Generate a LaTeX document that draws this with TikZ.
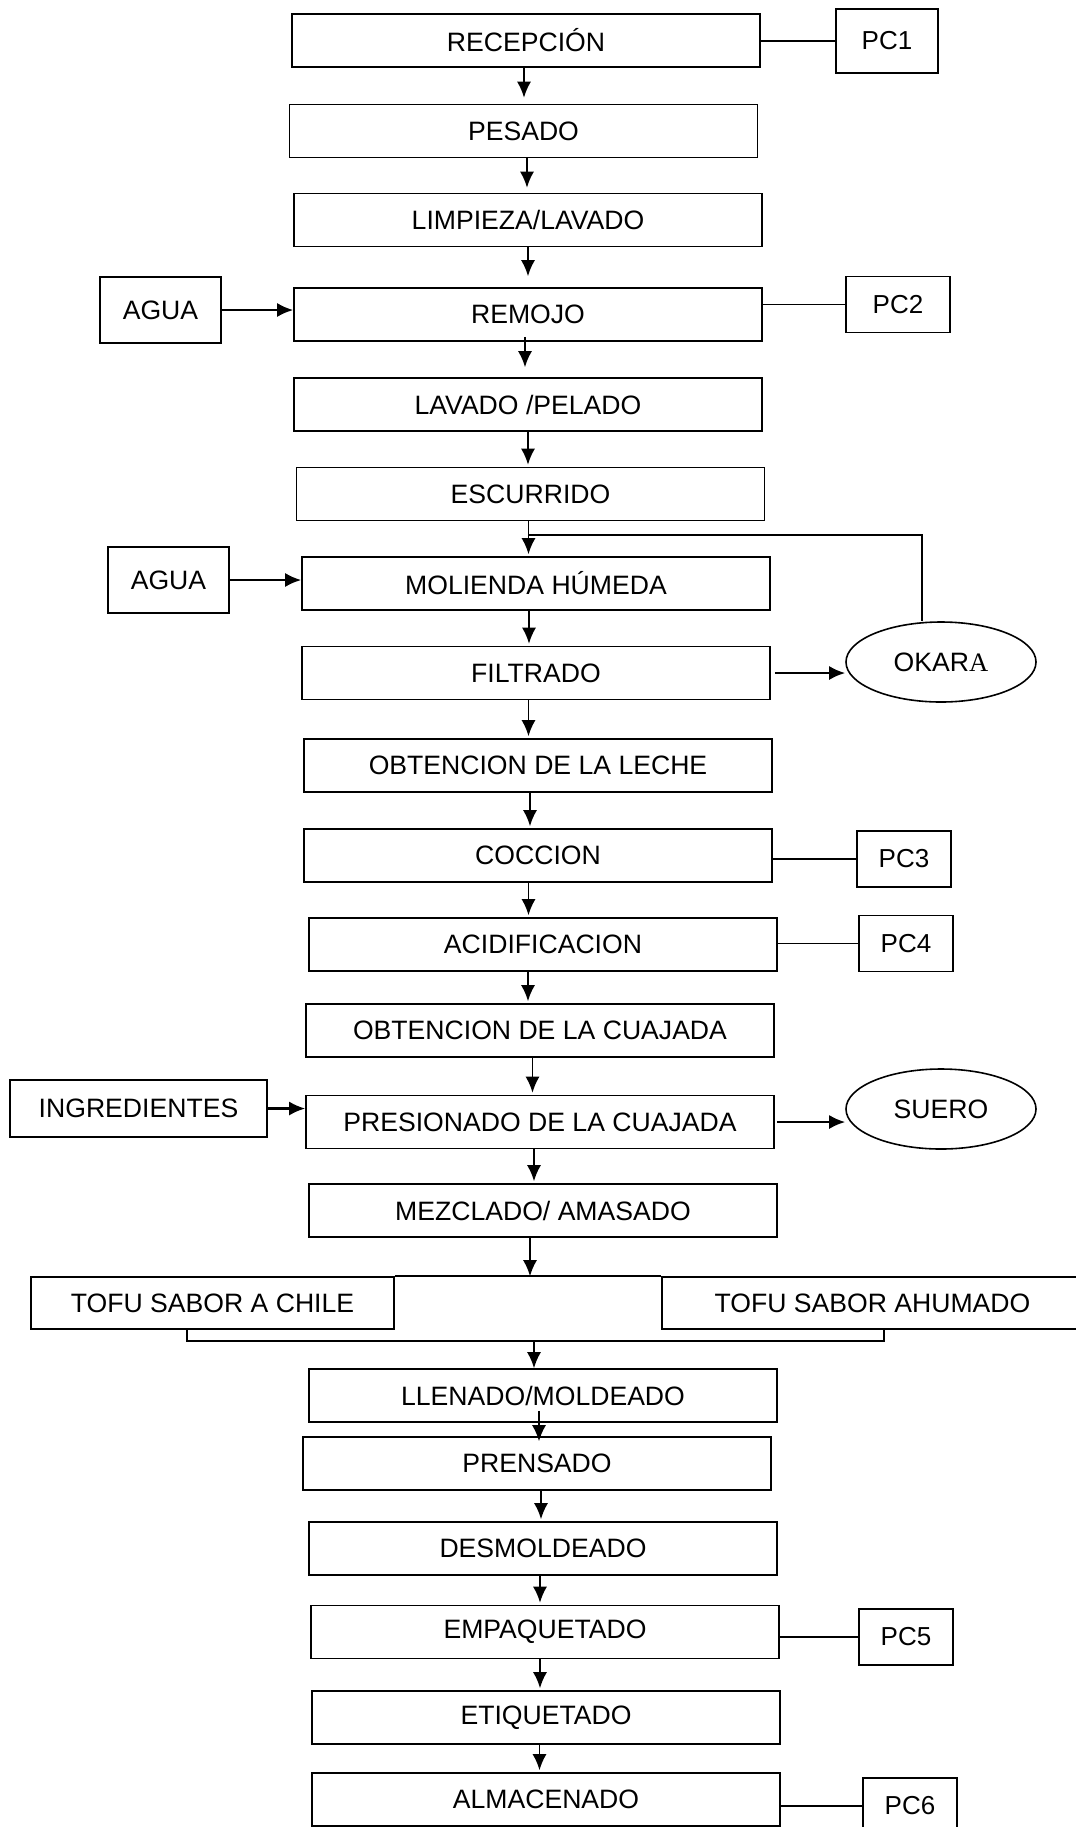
\documentclass[tikz,border=0pt]{standalone}
\usepackage{fontspec}
\setmainfont{Liberation Sans}
\newfontfamily\timesfont{Liberation Serif}
\usetikzlibrary{arrows.meta,shapes.geometric}

\tikzset{
	etapa/.style={draw, line width=0.8pt, minimum width=234pt, minimum height=26.5pt, inner sep=0pt, font=\fontsize{13.3}{16}\selectfont},
	pc/.style={draw, line width=0.8pt, minimum width=47pt, minimum height=28pt, inner sep=0pt, font=\fontsize{13}{16}\selectfont},
	entrada/.style={draw, line width=0.8pt, inner sep=0pt, font=\fontsize{13.3}{16}\selectfont},
	residuo/.style={draw, ellipse, line width=0.8pt, minimum width=95pt, minimum height=40pt, inner sep=0pt, font=\fontsize{13.3}{16}\selectfont},
	flecha/.style={-{Latex[length=8pt,width=7pt]}, line width=0.9pt, shorten >=1pt},
	flechag/.style={-{Latex[length=8pt,width=7pt]}, line width=1.1pt},
	linea/.style={line width=0.75pt}
}

\begin{document}
\begin{tikzpicture}[x=0.5pt, y=-0.5pt]
			%%%%% START %%%%%
			\useasboundingbox (0,0) rectangle (1076,1827);
			
			\node[etapa] (recep) at (526,40.5) {RECEPCIÓN};
			\node[etapa] (pesado) at (523.5,131) {PESADO};
			\node[etapa] (limp) at (528,220) {LIMPIEZA/LAVADO};
			\node[etapa] (remojo) at (528,314.5) {REMOJO};
			\node[etapa] (lavado) at (528,404.5) {LAVADO /PELADO};
			\node[etapa] (escurr) at (530.5,494) {ESCURRIDO};
			\node[etapa] (molien) at (536,583.5) {MOLIENDA HÚMEDA};
			\node[etapa] (filtr) at (536,673) {FILTRADO};
			\node[etapa] (leche) at (538,765.5) {OBTENCION DE LA LECHE};
			\node[etapa] (cocc) at (538,855.5) {COCCION};
			\node[etapa] (acid) at (543,944.5) {ACIDIFICACION};
			\node[etapa] (cuaj) at (540,1030.5) {OBTENCION DE LA CUAJADA};
			\node[etapa] (presi) at (540,1122) {PRESIONADO DE LA CUAJADA};
			\node[etapa] (mezcl) at (543,1210.5) {MEZCLADO/ AMASADO};
			\node[etapa] (llen) at (543,1395.5) {LLENADO/MOLDEADO};
			\node[etapa] (prens) at (537,1463.5) {PRENSADO};
			\node[etapa] (desm) at (543,1548.5) {DESMOLDEADO};
			\node[etapa] (empaq) at (545,1632) {EMPAQUETADO};
			\node[etapa] (etiq) at (546,1717.5) {ETIQUETADO};
			\node[etapa] (almac) at (546,1799.5) {ALMACENADO};
			
			\node[pc, minimum width=51pt, minimum height=32pt] (pc1) at (887,41) {PC1};
			\node[pc, minimum width=52pt] (pc2) at (898,304.5) {PC2};
			\node[pc] (pc3) at (904,859) {PC3};
			\node[pc] (pc4) at (906,943.5) {PC4};
			\node[pc] (pc5) at (906,1637) {PC5};
			\node[pc] (pc6) at (910,1806) {PC6};
			
			\node[entrada, minimum width=60.5pt, minimum height=33pt] (agua1) at (160.5,310) {AGUA};
			\node[entrada, minimum width=60.5pt, minimum height=33pt] (agua2) at (168.5,580) {AGUA};
			\node[entrada, minimum width=128.5pt, minimum height=28.5pt] (ingr) at (138.5,1108.5) {INGREDIENTES};
			\node[etapa, minimum width=181.5pt, minimum height=26pt] (chile) at (212.5,1303) {TOFU SABOR A CHILE};
			\node[etapa, minimum width=210.5pt, minimum height=26pt] (ahum) at (872.5,1303) {TOFU SABOR AHUMADO};
			
			\node[residuo] (okara) at (941,662) {OKAR{\timesfont A}};
			\node[residuo] (suero) at (941,1109) {SUERO};
			
			% puntos de control
			\draw[linea] (recep.east |- pc1.west) -- (pc1.west);
			\draw[linea] (remojo.east |- pc2.west) -- (pc2.west);
			\draw[linea] (cocc.east |- pc3.west) -- (pc3.west);
			\draw[linea] (acid.east |- pc4.west) -- (pc4.west);
			\draw[linea] (empaq.east |- pc5.west) -- (pc5.west);
			\draw[linea] (almac.east |- pc6.west) -- (pc6.west);
			
			% entradas y salidas
			\draw[flechag] (agua1.east) -- (agua1.east -| remojo.west);
			\draw[flechag] (agua2.east) -- (agua2.east -| molien.west);
			\draw[flechag] (ingr.east) -- (ingr.east -| presi.west);
			\draw[flechag, shorten <=2pt] (filtr.east) -- (filtr.east -| okara.west);
			\draw[flechag, shorten <=1pt] (presi.east) -- (presi.east -| suero.west);
			
			\coordinate (retorno) at (922,535);
			\draw[linea] (okara.north -| retorno) -- (retorno) -- ([xshift=-1pt]retorno -| escurr.south);
			
			% linea principal
			\draw[flecha, shorten >=3pt] ([xshift=-1pt]recep.south) -- ([xshift=-1pt]recep.south |- pesado.north);
			\draw[flecha, shorten >=2.5pt] ([xshift=1.75pt]pesado.south) -- ([xshift=1.75pt]pesado.south |- limp.north);
			\draw[flecha, shorten >=5.5pt] (limp.south) -- (limp.south |- remojo.north);
			\draw[flecha, shorten >=5pt, shorten <=-2.5pt] ([xshift=-1.5pt]remojo.south) -- ([xshift=-1.5pt]remojo.south |- lavado.north);
			\draw[flecha] (lavado.south) -- (lavado.south |- escurr.north);
			\draw[flecha] ([xshift=-1pt]escurr.south) -- ([xshift=-1pt]escurr.south |- molien.north);
			\draw[flecha] ([xshift=-3.5pt]molien.south) -- ([xshift=-3.5pt]molien.south |- filtr.north);
			\draw[flecha] ([xshift=-3.75pt]filtr.south) -- ([xshift=-3.75pt]filtr.south |- leche.north);
			\draw[flecha] ([xshift=-4pt]leche.south) -- ([xshift=-4pt]leche.south |- cocc.north);
			\draw[flecha] ([xshift=-4.75pt]cocc.south) -- ([xshift=-4.75pt]cocc.south |- acid.north);
			\draw[flecha] ([xshift=-7.5pt]acid.south) -- ([xshift=-7.5pt]acid.south |- cuaj.north);
			\draw[flecha] ([xshift=-3.75pt]cuaj.south) -- ([xshift=-3.75pt]cuaj.south |- presi.north);
			\draw[flecha] ([xshift=-3pt]presi.south) -- ([xshift=-3pt]presi.south |- mezcl.north);
			\draw[flecha, shorten >=0pt] ([xshift=-6.5pt]mezcl.south) -- ([xshift=-6.5pt]mezcl.south |- chile.north);
			
			\draw[linea] (chile.north east) -- (ahum.north west);
			\coordinate (unionI) at (187,1341);
			\coordinate (unionD) at (884,1341);
			\coordinate (unionC) at (534,1341);
			\draw[linea] (unionI |- chile.south) -- (unionI) -- (unionD) -- (unionD |- ahum.south);
			\draw[flecha, shorten >=0pt] (unionC) -- (unionC |- llen.north);
			
			\draw[flecha, shorten <=-6pt, shorten >=-2.5pt] ([xshift=-2pt]llen.south) -- ([xshift=-2pt]llen.south |- prens.north);
			\draw[flecha] ([xshift=2pt]prens.south) -- ([xshift=2pt]prens.south |- desm.north);
			\draw[flecha] ([xshift=-1.5pt]desm.south) -- ([xshift=-1.5pt]desm.south |- empaq.north);
			\draw[flecha] ([xshift=-2.5pt]empaq.south) -- ([xshift=-2.5pt]empaq.south |- etiq.north);
			\draw[flecha] ([xshift=-3.25pt]etiq.south) -- ([xshift=-3.25pt]etiq.south |- almac.north);
			
			%%%%% END %%%%%
\end{tikzpicture}
\end{document}
